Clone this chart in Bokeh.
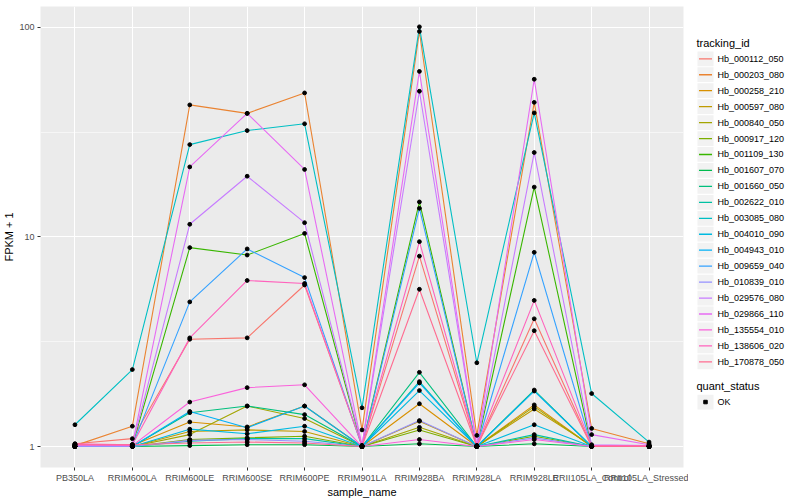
from bokeh.plotting import figure
from bokeh.models import FactorRange, Range1d, FixedTicker, PrintfTickFormatter
from bokeh.layouts import row
from bokeh.embed import file_html
from bokeh.resources import INLINE
from bokeh.core.properties import value

samples = ["PB350LA", "RRIM600LA", "RRIM600LE", "RRIM600SE", "RRIM600PE", "RRIM901LA",
           "RRIM928BA", "RRIM928LA", "RRIM928LE", "RRII105LA_Control", "RRII105LA_Stressed"]

hb_000112_050 = [1.03, 1.09, 3.25, 3.30, 5.90, 1.01, 8.10, 1.00, 4.07, 1.00, 1.01]
hb_000203_080 = [1.01, 1.25, 42.7, 38.9, 48.7, 1.20, 95.7, 1.13, 43.9, 1.22, 1.03]
hb_000258_210 = [1.00, 1.01, 1.31, 1.24, 1.56, 1.00, 1.60, 1.00, 1.58, 1.00, 1.00]
hb_000597_080 = [1.00, 1.00, 1.18, 1.20, 1.18, 1.00, 1.32, 1.00, 1.51, 1.01, 1.00]
hb_000840_050 = [1.00, 1.00, 1.14, 1.56, 1.36, 1.00, 1.235, 1.00, 1.55, 1.00, 1.00]
hb_000917_120 = [1.00, 1.00, 1.08, 1.10, 1.12, 1.00, 1.20, 1.00, 1.12, 1.00, 1.00]
hb_001109_130 = [1.00, 1.01, 8.9, 8.2, 10.4, 1.00, 14.7, 1.00, 17.3, 1.00, 1.00]
hb_001607_070 = [1.00, 1.00, 1.01, 1.02, 1.02, 1.00, 1.03, 1.00, 1.03, 1.00, 1.00]
hb_001660_050 = [1.00, 1.00, 1.45, 1.56, 1.42, 1.00, 2.26, 1.00, 1.86, 1.00, 1.00]
hb_002622_010 = [1.00, 1.00, 1.06, 1.09, 1.09, 1.00, 2.04, 1.00, 1.14, 1.00, 1.00]
hb_003085_080 = [1.27, 2.33, 27.6, 32.2, 34.7, 1.53, 100.7, 2.51, 39.1, 1.79, 1.05]
hb_004010_090 = [1.00, 1.00, 1.21, 1.15, 1.25, 1.00, 1.85, 1.00, 1.27, 1.00, 1.00]
hb_004943_010 = [1.00, 1.00, 1.47, 1.23, 1.56, 1.00, 2.01, 1.00, 1.84, 1.00, 1.00]
hb_009659_040 = [1.00, 1.01, 4.9, 8.77, 6.4, 1.00, 13.7, 1.00, 8.45, 1.00, 1.00]
hb_010839_010 = [1.00, 1.00, 1.07, 1.08, 1.06, 1.00, 1.33, 1.00, 1.10, 1.00, 1.00]
hb_029576_080 = [1.01, 1.02, 11.5, 19.5, 11.7, 1.01, 49.6, 1.01, 25.3, 1.02, 1.01]
hb_029866_110 = [1.02, 1.02, 21.6, 38.9, 21.0, 1.01, 61.7, 1.01, 56.6, 1.14, 1.02]
hb_135554_010 = [1.02, 1.01, 1.63, 1.91, 1.97, 1.00, 1.08, 1.00, 1.08, 1.00, 1.00]
hb_138606_020 = [1.03, 1.02, 3.30, 6.20, 6.00, 1.01, 9.50, 1.01, 4.98, 1.01, 1.01]
hb_170878_050 = [1.02, 1.02, 1.04, 1.05, 1.04, 1.00, 5.63, 1.00, 3.57, 1.00, 1.00]

tracking_ids = ["Hb_000112_050", "Hb_000203_080", "Hb_000258_210", "Hb_000597_080", "Hb_000840_050",
                "Hb_000917_120", "Hb_001109_130", "Hb_001607_070", "Hb_001660_050", "Hb_002622_010",
                "Hb_003085_080", "Hb_004010_090", "Hb_004943_010", "Hb_009659_040", "Hb_010839_010",
                "Hb_029576_080", "Hb_029866_110", "Hb_135554_010", "Hb_138606_020", "Hb_170878_050"]
series_values = [hb_000112_050, hb_000203_080, hb_000258_210, hb_000597_080, hb_000840_050,
                 hb_000917_120, hb_001109_130, hb_001607_070, hb_001660_050, hb_002622_010,
                 hb_003085_080, hb_004010_090, hb_004943_010, hb_009659_040, hb_010839_010,
                 hb_029576_080, hb_029866_110, hb_135554_010, hb_138606_020, hb_170878_050]
colors = ["#F8766D", "#EA8331", "#D89000", "#C09B00", "#A3A500", "#7CAE00", "#39B600", "#00BB4E",
          "#00BF7D", "#00C1A3", "#00BFC4", "#00BAE0", "#00B0F6", "#35A2FF", "#9590FF", "#C77CFF",
          "#E76BF3", "#FA62DB", "#FF62BC", "#FF6C91"]
y_ticks = [1, 10, 100]
y_minor = [3.1623, 31.623]

FONT = "Liberation Sans"

p = figure(x_range=FactorRange(factors=samples, range_padding=0.1, range_padding_units="absolute"),
           y_axis_type="log", y_range=Range1d(0.794, 125.9),
           width=688, height=500, output_backend="svg", toolbar_location=None,
           min_border_left=40, min_border_right=5, min_border_top=6, min_border_bottom=33)
p.background_fill_color = "#EBEBEB"
p.border_fill_color = "white"
p.outline_line_color = None

for vals, col in zip(series_values, colors):
    p.line(samples, vals, line_color=col, line_width=1.1)

px, py = [], []
for vals in series_values:
    px.extend(samples)
    py.extend(vals)
p.scatter(px, py, marker="circle", size=3.8, fill_color="black", line_color="black")

p.xgrid.grid_line_color = "white"
p.xgrid.grid_line_width = 1.1
p.ygrid.grid_line_color = "white"
p.ygrid.grid_line_width = 1.1
p.ygrid.minor_grid_line_color = "white"
p.ygrid.minor_grid_line_width = 0.55

p.yaxis.ticker = FixedTicker(ticks=y_ticks, minor_ticks=y_minor)
p.yaxis.formatter = PrintfTickFormatter(format="%d")

for ax in (p.xaxis[0], p.yaxis[0]):
    ax.axis_line_color = None
    ax.major_tick_line_color = "#333333"
    ax.major_tick_out = 3
    ax.major_tick_in = 0
    ax.minor_tick_line_color = None
    ax.major_label_text_color = "#4D4D4D"
    ax.major_label_text_font = FONT
    ax.major_label_text_font_size = "9px"
    ax.major_label_standoff = 2
    ax.axis_label_text_font = FONT
    ax.axis_label_text_font_size = "11px"
    ax.axis_label_text_font_style = "normal"
    ax.axis_label_text_color = "black"
    ax.axis_label_standoff = 0
p.xaxis.axis_label = "sample_name"
p.yaxis.axis_label = "FPKM + 1"
p.yaxis.axis_label_standoff = 1

# legend panel drawn as its own figure (coordinates in pixels)
leg = figure(width=112, height=500, x_range=Range1d(0, 112), y_range=Range1d(500, 0),
             output_backend="svg", toolbar_location=None,
             min_border_left=0, min_border_right=0, min_border_top=0, min_border_bottom=0)
leg.axis.visible = False
leg.grid.visible = False
leg.outline_line_color = None
leg.background_fill_color = "white"
leg.border_fill_color = "white"

row_y = [56.7 + 17.3 * i for i in range(len(tracking_ids))]
leg.text([8], [40], text=["tracking_id"], text_font=value(FONT), text_font_size="11px",
         text_baseline="middle", text_color="black")
leg.rect([17] * len(row_y), row_y, width=16, height=16, fill_color="#F2F2F2", line_color=None)
for yy, col in zip(row_y, colors):
    leg.line([10.5, 23.5], [yy, yy], line_color=col, line_width=1.3)
leg.text([29] * len(row_y), row_y, text=tracking_ids, text_font=value(FONT), text_font_size="9px",
         text_baseline="middle", text_color="black")

leg.text([8], [412], text=["quant_status"], text_font=value(FONT), text_font_size="11px",
         text_baseline="middle", text_color="black")
leg.rect([17], [429], width=16, height=16, fill_color="#F2F2F2", line_color=None)
leg.scatter([17], [429], marker="square", size=3.5, fill_color="black", line_color="black")
leg.text([29], [429], text=["OK"], text_font=value(FONT), text_font_size="9px",
         text_baseline="middle", text_color="black")

layout = row(p, leg)
open("out.html", "w").write(file_html(layout, INLINE))
